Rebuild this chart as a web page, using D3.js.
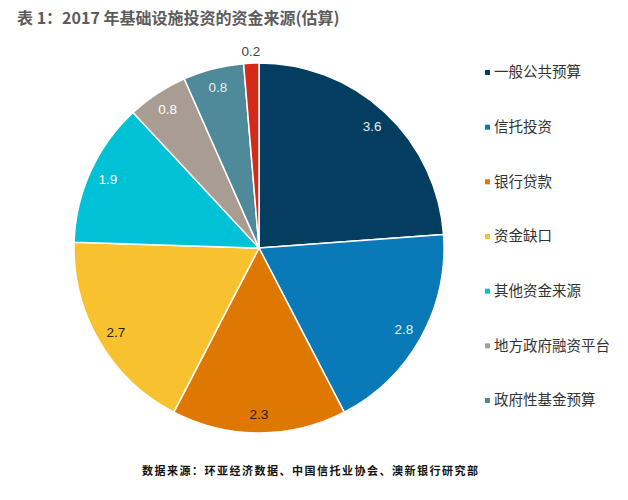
<!DOCTYPE html>
<html>
<head>
<meta charset="utf-8">
<script src="https://cdn.jsdelivr.net/npm/d3@7/dist/d3.min.js"></script>
<style>
  html, body { margin: 0; padding: 0; background: #fff; }
  svg { display: block; }
</style>
</head>
<body>
<svg id="chart" width="628" height="500"></svg>
<script>
const title = "表 1：2017 年基础设施投资的资金来源(估算)";
const source = "数据来源：环亚经济数据、中国信托业协会、澳新银行研究部";
const categories = ["一般公共预算", "信托投资", "银行贷款", "资金缺口", "其他资金来源", "地方政府融资平台", "政府性基金预算", "其他"];
const values = [3.6, 2.8, 2.3, 2.7, 1.9, 0.8, 0.8, 0.2];
const valueLabels = ["3.6", "2.8", "2.3", "2.7", "1.9", "0.8", "0.8", "0.2"];
const colors = ["#033d5f", "#0a79b7", "#de7800", "#f8c12f", "#00c1d5", "#a99d93", "#4e8a99", "#d52a1a"];
const labelColors = ["#e8eef4", "#e8eef4", "#222", "#222", "#ffffff", "#ffffff", "#e8eef4", "#444"];
const legendCount = 7; // the small red slice is not listed in the legend

const svg = d3.select("#chart");
const cx = 259, cy = 248, R = 185;

svg.append("text")
  .attr("x", 17).attr("y", 24)
  .attr("font-family", "'Noto Sans CJK SC', 'Liberation Sans', sans-serif")
  .attr("font-weight", "bold")
  .attr("font-size", 16)
  .attr("fill", "#5c5c5c")
  .text(title);

const data = categories.map((c, i) => ({ name: c, value: values[i], label: valueLabels[i], i }));
const pie = d3.pie().value(d => d.value).sort(null);
const arcs = pie(data);
const arc = d3.arc().innerRadius(0).outerRadius(R);
const labelArc = d3.arc().innerRadius(166).outerRadius(166);
const outerLabelArc = d3.arc().innerRadius(197).outerRadius(197);

const g = svg.append("g").attr("transform", `translate(${cx},${cy})`);
g.selectAll("path.slice").data(arcs).enter().append("path")
  .attr("class", "slice")
  .attr("d", arc)
  .attr("fill", d => colors[d.data.i])
  .attr("stroke", "#fff")
  .attr("stroke-width", 1.5)
  .attr("stroke-linejoin", "round");

g.selectAll("text.lbl").data(arcs).enter().append("text")
  .attr("class", "lbl")
  .attr("transform", d => {
    const c = (d.data.value < 0.5 ? outerLabelArc : labelArc).centroid(d);
    return `translate(${c[0]},${c[1]})`;
  })
  .attr("text-anchor", "middle")
  .attr("dy", "0.35em")
  .attr("font-family", "'Liberation Sans', 'Lato', sans-serif")
  .attr("font-size", 13.5)
  .attr("fill", d => labelColors[d.data.i])
  .text(d => d.data.label);

const legendY = d3.scalePoint().domain(categories.slice(0, legendCount)).range([72, 400]);
const lg = svg.append("g");
const items = lg.selectAll("g").data(data.slice(0, legendCount)).enter().append("g")
  .attr("transform", d => `translate(485,${legendY(d.name)})`);
items.append("rect")
  .attr("x", 0).attr("y", -2).attr("width", 5).attr("height", 5)
  .attr("fill", d => colors[d.i]);
items.append("text")
  .attr("x", 9).attr("y", 0).attr("dy", "0.36em")
  .attr("font-family", "'Noto Sans CJK SC', sans-serif")
  .attr("font-size", 14.5)
  .attr("fill", "#333")
  .text(d => d.name);

svg.append("text")
  .attr("x", 142).attr("y", 475)
  .attr("font-family", "'Noto Sans CJK SC', sans-serif")
  .attr("font-weight", "bold")
  .attr("font-size", 11)
  .attr("letter-spacing", "1.5px")
  .attr("fill", "#111")
  .text(source);
</script>
</body>
</html>
